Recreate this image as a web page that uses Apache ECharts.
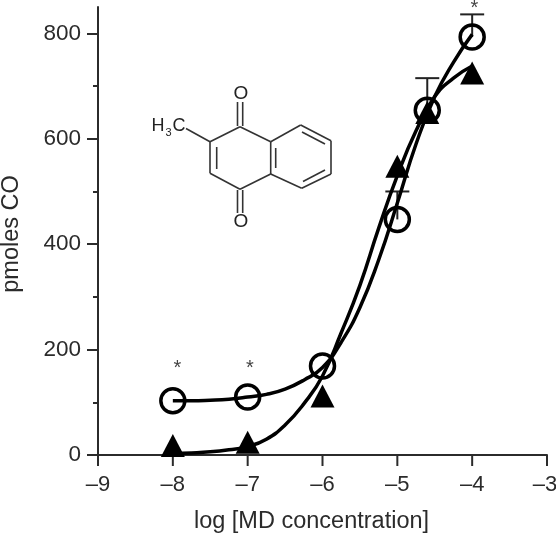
<!DOCTYPE html>
<html>
<head>
<meta charset="utf-8">
<style>html,body{margin:0;padding:0;background:#fff}#chart{width:556px;height:533px}</style>
<script src="https://cdn.jsdelivr.net/npm/echarts@6/dist/echarts.min.js"></script>
</head>
<body>
<div id="chart"></div>
<script>
// measured points
var circlePoints = [[-8, 103], [-7, 110], [-6, 169], [-5, 447], [-4.6, 654], [-4, 793]];
var trianglePoints = [[-8, 18], [-7, 24], [-6, 112], [-5, 548], [-4.6, 650], [-4, 725]];
// fitted curves
var circleCurve = [[-8, 103], [-7.75, 103], [-7.5, 104], [-7.25, 106], [-7, 110], [-6.75, 115], [-6.5, 125], [-6.25, 142], [-6, 166], [-5.75, 214], [-5.5, 280], [-5.25, 370], [-5, 478], [-4.75, 590], [-4.5, 680], [-4.25, 745], [-4, 798]];
var triangleCurve = [[-8, 3], [-7.75, 4], [-7.5, 6], [-7.25, 10], [-7, 16], [-6.75, 30], [-6.5, 57], [-6.25, 97], [-6, 150], [-5.75, 232], [-5.5, 322], [-5.25, 430], [-5, 530], [-4.75, 615], [-4.5, 680], [-4.25, 715], [-4, 738]];
// error bars: x, from, to
var errorBars = [[-5, 447, 500], [-4.6, 654, 715], [-4, 793, 836]];
var stars = [[-7.94, 164], [-6.97, 164], [-3.97, 848]];
var xTicks = [-9, -8, -7, -6, -5, -4, -3];
var yTicks = [0, 200, 400, 600, 800];
var yMinorTicks = [100, 300, 500, 700];

var ink = '#2b2b2b';
var fontName = '"Liberation Sans", Arial, sans-serif';
var myChart = echarts.init(document.getElementById('chart'));

// menadione structure, page pixels
var bonds = [
    [210, 141.7, 210, 173.3], [210, 173.3, 240, 189.3], [240, 189.3, 270.7, 174],
    [270.7, 174, 270.7, 141.7], [270.7, 141.7, 240, 126.7], [240, 126.7, 210, 141.7],
    [270.7, 141.7, 300.7, 125], [300.7, 125, 331, 140.7], [331, 140.7, 331, 174],
    [331, 174, 301.7, 188.3], [301.7, 188.3, 270.7, 174],
    [210, 141.7, 186, 128.5],
    [237.5, 126, 237.5, 102], [242.7, 126, 242.7, 102],
    [237.5, 190, 237.5, 213], [242.7, 190, 242.7, 213],
    [216.7, 147, 216.7, 169], [275.7, 148, 275.7, 168],
    [302, 132, 325, 144], [303, 181.5, 325, 170]
];
var labels = [
    {text: 'O', x: 241, y: 94, size: 19},
    {text: 'O', x: 241, y: 221.5, size: 19},
    {text: 'H', x: 158, y: 126, size: 18},
    {text: '3', x: 168.5, y: 133, size: 11},
    {text: 'C', x: 179, y: 126, size: 18}
];
var molecule = bonds.map(function(b) {
    return {
        type: 'line',
        shape: {x1: b[0], y1: b[1], x2: b[2], y2: b[3]},
        style: {stroke: '#333', lineWidth: 1.6}
    };
}).concat(labels.map(function(l) {
    return {
        type: 'text', x: l.x, y: l.y,
        style: {text: l.text, fontSize: l.size, fontFamily: fontName, fill: '#222', align: 'center', verticalAlign: 'middle'}
    };
}));

var option = {
    animation: false,
    backgroundColor: '#fff',
    grid: {left: 98, right: 9, top: 7, bottom: 78, outerBoundsMode: 'none'},
    xAxis: {
        type: 'value', min: -9, max: -3, interval: 1, position: 'bottom',
        name: 'log [MD concentration]', nameLocation: 'middle', nameGap: 55,
        nameTextStyle: {fontSize: 23.5, color: ink, fontFamily: fontName, padding: [0, 22, 0, 0]},
        axisLine: {onZero: false, lineStyle: {color: ink, width: 2}},
        axisTick: {show: false},
        axisLabel: {
            fontSize: 22, color: ink, fontFamily: fontName, margin: 19,
            rich: {last: {fontSize: 22, color: ink, fontFamily: fontName, padding: [0, 4, 0, 0]}},
            formatter: function(v) {
                var t = '\u2013' + Math.abs(v);
                return v === -3 ? '{last|' + t + '}' : t;
            }
        },
        splitLine: {show: false}
    },
    yAxis: [{
        type: 'value', min: 0, max: 850,
        name: 'pmoles CO', nameLocation: 'middle', nameGap: 74,
        nameTextStyle: {fontSize: 23.5, color: ink, fontFamily: fontName, padding: [0, 6, 0, 0]},
        axisLine: {show: true, lineStyle: {color: ink, width: 2}},
        axisTick: {show: true, length: 11, customValues: yTicks, lineStyle: {color: ink, width: 2}},
        axisLabel: {fontSize: 22.5, color: ink, fontFamily: fontName, margin: 17, customValues: yTicks},
        splitLine: {show: false}
    }, {
        type: 'value', min: 0, max: 850, position: 'left',
        axisLine: {show: false},
        axisTick: {show: true, length: 5, customValues: yMinorTicks, lineStyle: {color: ink, width: 2}},
        axisLabel: {show: false},
        splitLine: {show: false}
    }],
    series: [
        {
            // x axis ticks
            type: 'custom', data: xTicks.map(function(t) { return [t, 0]; }), clip: false,
            renderItem: function(params, api) {
                var p = api.coord([api.value(0), 0]);
                return {
                    type: 'line',
                    shape: {x1: p[0], y1: p[1], x2: p[0], y2: p[1] + 11},
                    style: {stroke: ink, lineWidth: 2}
                };
            }
        },
        {
            type: 'line', data: triangleCurve, smooth: 0.5, showSymbol: false, silent: true,
            lineStyle: {color: '#000', width: 3.5}
        },
        {
            type: 'line', data: circleCurve, smooth: 0.5, showSymbol: false, silent: true,
            lineStyle: {color: '#000', width: 3.5}
        },
        {
            type: 'custom', data: errorBars, clip: false,
            renderItem: function(params, api) {
                var x = api.value(0);
                var low = api.coord([x, api.value(1)]);
                var high = api.coord([x, api.value(2)]);
                var st = {stroke: '#222', lineWidth: 2};
                return {type: 'group', children: [
                    {type: 'line', shape: {x1: low[0], y1: low[1], x2: high[0], y2: high[1]}, style: st},
                    {type: 'line', shape: {x1: high[0] - 12, y1: high[1], x2: high[0] + 12, y2: high[1]}, style: st}
                ]};
            }
        },
        {
            type: 'scatter', data: trianglePoints, symbol: 'triangle', symbolSize: [24, 23],
            itemStyle: {color: '#000', opacity: 1}
        },
        {
            type: 'scatter', data: circlePoints, symbol: 'circle', symbolSize: 24,
            itemStyle: {color: 'rgba(0,0,0,0)', borderColor: '#000', borderWidth: 3.5, opacity: 1}
        },
        {
            type: 'custom', data: stars, clip: false,
            renderItem: function(params, api) {
                var p = api.coord([api.value(0), api.value(1)]);
                return {
                    type: 'text', x: p[0], y: p[1],
                    style: {text: '*', fontSize: 20, fontFamily: fontName, fill: '#444', align: 'center', verticalAlign: 'middle'}
                };
            }
        }
    ],
    graphic: molecule
};

myChart.setOption(option);
</script>
</body>
</html>
